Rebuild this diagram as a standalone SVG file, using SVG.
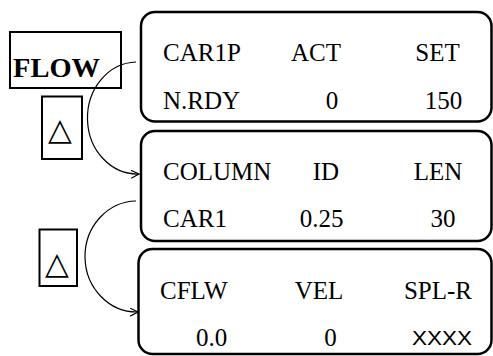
<svg xmlns="http://www.w3.org/2000/svg" width="493" height="356" viewBox="0 0 493 356">
<style>
.box{fill:none;stroke:#000;stroke-width:2.5}
.sbox{fill:none;stroke:#000;stroke-width:2}
.t{font-family:'Liberation Serif','DejaVu Serif',serif;font-size:25px;fill:#000}
.m{text-anchor:middle}
.x{font-family:'Liberation Sans','DejaVu Sans',sans-serif;font-size:21px;fill:#000;text-anchor:middle}
.flow{font-family:'Liberation Serif','DejaVu Serif',serif;font-size:28px;font-weight:bold;fill:#000}
.tri{font-family:'DejaVu Sans',sans-serif;font-size:31px;fill:#000;text-anchor:middle}
.conn{fill:none;stroke:#000;stroke-width:1.2}
</style>
<defs>
<marker id="arr" markerWidth="10" markerHeight="10" refX="8" refY="4" orient="auto" markerUnits="userSpaceOnUse">
<path d="M0,0 L8,4 L0,8" fill="none" stroke="#000" stroke-width="1.2"/>
</marker>
</defs>
<g id="flow">
<rect class="sbox" x="10" y="32" width="111" height="56"/>
<text class="flow" x="13" y="76.5" textLength="87" lengthAdjust="spacingAndGlyphs">FLOW</text>
</g>
<g id="tri1">
<rect class="sbox" x="42" y="96.5" width="40" height="62.5"/>
<text class="tri" x="60" y="140">△</text>
</g>
<g id="tri2">
<rect class="sbox" x="39.5" y="229.5" width="37.5" height="56.5"/>
<text class="tri" x="57" y="274">△</text>
</g>
<g id="car1p">
<rect class="box" x="141" y="12" width="350.5" height="109.5" rx="14"/>
<text class="t" x="163" y="61">CAR1P</text>
<text class="t m" x="316" y="61">ACT</text>
<text class="t m" x="437.5" y="61">SET</text>
<text class="t" x="163" y="109">N.RDY</text>
<text class="t m" x="332" y="109">0</text>
<text class="t m" x="443.5" y="109">150</text>
</g>
<g id="column">
<rect class="box" x="141" y="131" width="350.5" height="110" rx="14"/>
<text class="t" x="163" y="179.5">COLUMN</text>
<text class="t m" x="326" y="179.5">ID</text>
<text class="t m" x="438" y="179.5">LEN</text>
<text class="t" x="163" y="227">CAR1</text>
<text class="t m" x="321.5" y="227">0.25</text>
<text class="t m" x="443" y="227">30</text>
</g>
<g id="cflw">
<rect class="box" x="138.5" y="249" width="353" height="105" rx="14"/>
<text class="t" x="160" y="299">CFLW</text>
<text class="t m" x="319" y="299">VEL</text>
<text class="t m" x="438" y="299">SPL-R</text>
<text class="t m" x="211.5" y="346">0.0</text>
<text class="t m" x="330.5" y="346">0</text>
<text class="x" x="442" y="345" textLength="60" lengthAdjust="spacingAndGlyphs">XXXX</text>
</g>
<g id="connectors">
<path class="conn" d="M136,62 A50,56 0 0 0 139,174" marker-end="url(#arr)"/>
<path class="conn" d="M136,201 A52,55.5 0 0 0 138,312" marker-end="url(#arr)"/>
</g>
</svg>
